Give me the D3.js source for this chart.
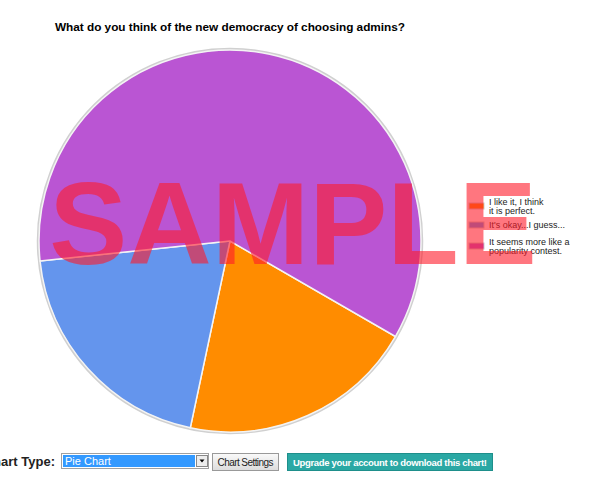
<html>
<head>
<script src="https://cdn.jsdelivr.net/npm/d3@7"></script>
<style>
  body, html { margin:0; padding:0; background:#fff; font-family:Arial, "Liberation Sans", sans-serif; }
  svg { display:block; }
</style>
</head>
<body>
<svg id="chart" width="600" height="480"></svg>
<script>
// poll answers, in legend order
var labels = [["I like it, I think", "it is perfect."], ["It's okay...I guess..."], ["It seems more like a", "popularity contest."]];
var votes = [1, 1, 3];
var colors = ["#FF8C00", "#6495ED", "#BA55D3"];
var title = "What do you think of the new democracy of choosing admins?";

var svg = d3.select("#chart");
var font = "Arial, 'Liberation Sans', sans-serif";

svg.append("text")
   .attr("x", 55).attr("y", 31)
   .attr("textLength", 350)
   .style("font", "bold 11.8px " + font)
   .text(title);

var cx = 230, cy = 241, r = 191;
var pie = d3.pie().sort(null).startAngle(120 * Math.PI / 180).endAngle(480 * Math.PI / 180);
var arc = d3.arc().innerRadius(0).outerRadius(r);
var g = svg.append("g").attr("transform", "translate(" + cx + "," + cy + ")");

// soft grey rim round the pie
g.append("circle").attr("r", r + 1).style("fill", "none").style("stroke", "#d0d0d0").style("stroke-width", 2.5);

g.selectAll("path.slice")
 .data(pie(votes))
 .enter()
 .append("path")
 .attr("class", "slice")
 .attr("d", arc)
 .style("fill", function(d, i){ return colors[i]; })
 .style("stroke", "#f4f4f4")
 .style("stroke-width", 1.5);

// legend
var legendY = [206, 225, 246];
var leg = svg.append("g");
labels.forEach(function(lines, i){
  var y = legendY[i];
  leg.append("rect").attr("x", 469).attr("y", y - 3).attr("width", 15).attr("height", 6)
     .style("fill", colors[i]).style("stroke", "#cccccc").style("stroke-width", 1);
  var t = leg.append("text").attr("x", 489)
     .attr("y", y + 3 - (lines.length - 1) * 4.5)
     .style("font", "9px " + font).style("fill", "#222");
  lines.forEach(function(l, j){
    t.append("tspan").attr("x", 489).attr("dy", j ? 9 : 0).text(l);
  });
});

// watermark
svg.append("text")
   .attr("x", 293).attr("y", 264)
   .attr("text-anchor", "middle")
   .style("font", "bold 117px " + font)
   .style("fill", "#ff1a2a").style("fill-opacity", 0.6)
   .text("SAMPLE");

// controls under the chart
svg.append("text").attr("x", 55).attr("y", 466).attr("text-anchor", "end")
   .style("font", "bold 13px " + font).style("fill", "#222").text("Chart Type:");

svg.append("rect").attr("x", 61.5).attr("y", 453.5).attr("width", 147).attr("height", 15)
   .style("fill", "#fff").style("stroke", "#a0a0a0");
svg.append("rect").attr("x", 63).attr("y", 455).attr("width", 132).attr("height", 12).style("fill", "#3399ff");
svg.append("text").attr("x", 65).attr("y", 465).style("font", "11px " + font).style("fill", "#fff").text("Pie Chart");
svg.append("rect").attr("x", 196.5).attr("y", 455.5).attr("width", 11).attr("height", 11)
   .style("fill", "#ececec").style("stroke", "#888");
svg.append("path").attr("d", "M199.5,459.5 L204.5,459.5 L202,462.5 Z").style("fill", "#000");

var grad = svg.append("defs").append("linearGradient").attr("id", "btn").attr("x1", 0).attr("y1", 0).attr("x2", 0).attr("y2", 1);
grad.append("stop").attr("offset", "0").attr("stop-color", "#fafafa");
grad.append("stop").attr("offset", "1").attr("stop-color", "#dcdcdc");
svg.append("rect").attr("x", 212.5).attr("y", 453.5).attr("width", 66).attr("height", 17)
   .style("fill", "url(#btn)").style("stroke", "#999");
svg.append("text").attr("x", 245.5).attr("y", 465.5).attr("text-anchor", "middle")
   .attr("textLength", 56)
   .style("font", "10px " + font).style("fill", "#222").text("Chart Settings");

svg.append("rect").attr("x", 287.5).attr("y", 453.5).attr("width", 205).attr("height", 17)
   .style("fill", "#2aa8a4").style("stroke", "#1e8f8b");
svg.append("text").attr("x", 390).attr("y", 465.5).attr("text-anchor", "middle")
   .attr("textLength", 194)
   .style("font", "bold 9.5px " + font).style("fill", "#fff").text("Upgrade your account to download this chart!");
</script>
</body>
</html>
